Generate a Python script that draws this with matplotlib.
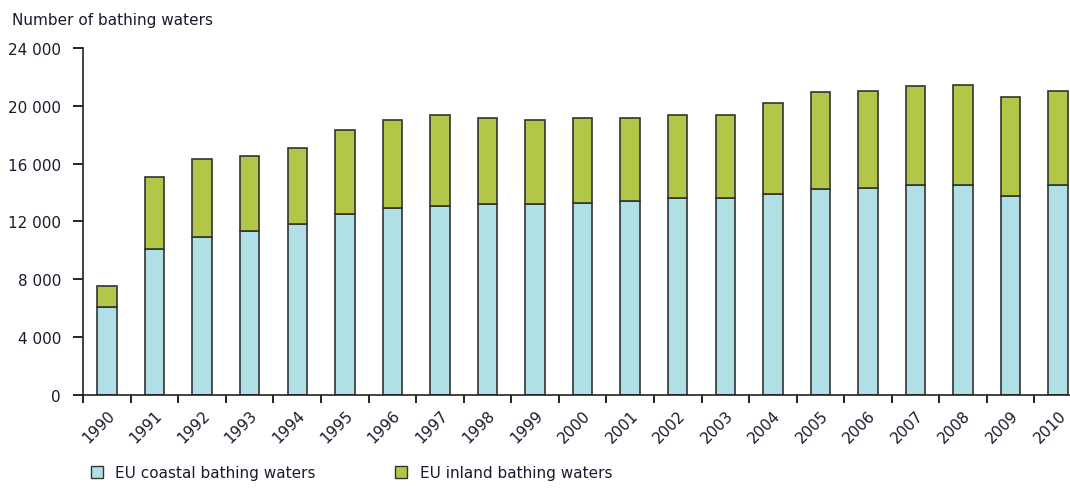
import matplotlib.pyplot as plt
import numpy as np
from matplotlib.patches import Patch
from matplotlib.ticker import FuncFormatter

years = [str(y) for y in range(1990, 2011)]
coastal = [6100, 10100, 10950, 11350, 11800, 12500, 12900, 13100, 13200, 13200, 13300,
           13400, 13600, 13600, 13900, 14250, 14350, 14550, 14550, 13750, 14550]
total = [7550, 15050, 16300, 16500, 17100, 18350, 19050, 19400, 19150, 19050, 19150,
         19150, 19400, 19400, 20200, 20950, 21050, 21350, 21450, 20600, 21050]
inland = [t - c for t, c in zip(total, coastal)]

coastal_col = "#b0e0e6"
inland_col = "#b2c647"
edge = "#333333"
txt = "#1a1a2e"

fig = plt.figure(figsize=(10.7, 4.89), dpi=100)
ax = fig.add_axes([0.0778, 0.1902, 0.9334, 0.7096])

x = np.arange(len(years))
ax.bar(x, coastal, 0.41, color=coastal_col, edgecolor=edge, linewidth=1.2)
ax.bar(x, inland, 0.41, bottom=coastal, color=inland_col, edgecolor=edge, linewidth=1.2)

ax.set_xlim(-0.5, len(years) - 0.5)
ax.set_ylim(0, 24000)
ax.set_yticks(range(0, 24001, 4000))
ax.yaxis.set_major_formatter(FuncFormatter(lambda v, _: f"{int(v):,}".replace(",", " ")))
ax.tick_params(axis="y", length=7, width=1.2, pad=9, labelsize=11, labelcolor=txt)

ax.set_xticks(x)
ax.set_xticklabels(years, rotation=45, ha="right", rotation_mode="anchor", fontsize=11,
                   color=txt)
ax.tick_params(axis="x", which="major", length=0, pad=9)
ax.set_xticks(np.arange(-0.5, len(years), 1.0), minor=True)
ax.tick_params(axis="x", which="minor", length=6, width=1.2)

for s in ["top", "right"]:
    ax.spines[s].set_visible(False)
for s in ["left", "bottom"]:
    ax.spines[s].set_linewidth(1.2)
    ax.spines[s].set_color("#222222")

fig.text(0.011, 0.958, "Number of bathing waters", fontsize=11, color=txt, va="center")

handles = [Patch(facecolor=coastal_col, edgecolor=edge, linewidth=1),
           Patch(facecolor=inland_col, edgecolor=edge, linewidth=1)]
fig.legend(handles, ["EU coastal bathing waters", "EU inland bathing waters"],
           loc="lower left", bbox_to_anchor=(0.072, -0.012), ncol=2, frameon=False,
           fontsize=11, handlelength=0.8, handleheight=0.8, handletextpad=0.8,
           columnspacing=5.2, labelcolor=txt)

fig.savefig("out.png", dpi=100)
